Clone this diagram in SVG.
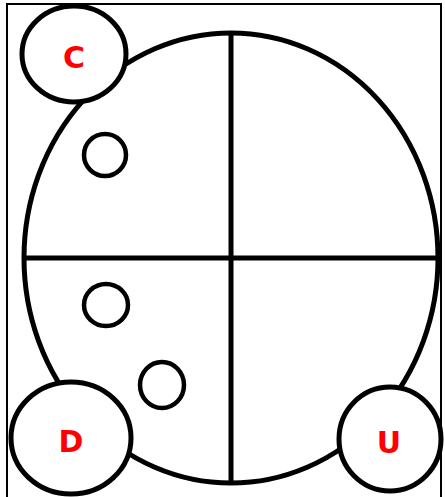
<svg xmlns="http://www.w3.org/2000/svg" width="445" height="497" viewBox="0 0 445 497">
<style>
.s{fill:none;stroke:#000;stroke-width:5}
.n{fill:#fff;stroke:#000;stroke-width:5}
.m{fill:#fff;stroke:#000;stroke-width:4.5}
.t{font-family:"DejaVu Sans",sans-serif;font-weight:bold;font-size:30px;fill:#f00;text-anchor:middle}
</style>
<rect x="0" y="0" width="445" height="497" fill="#fff"/>
<path d="M7,500 V4 H441 V500" fill="none" stroke="#000" stroke-width="2"/>
<g id="body">
<ellipse class="s" cx="231" cy="258" rx="207" ry="225"/>
<line class="s" x1="24" y1="258" x2="438" y2="258"/>
<line class="s" x1="231" y1="33" x2="231" y2="484"/>
</g>
<g id="dot1"><ellipse class="m" cx="105" cy="155" rx="21" ry="21"/></g>
<g id="dot2"><ellipse class="m" cx="106" cy="305" rx="22" ry="21"/></g>
<g id="dot3"><ellipse class="m" cx="162" cy="385" rx="22" ry="23"/></g>
<g id="C"><ellipse class="n" cx="74" cy="54" rx="52" ry="48"/><text class="t" x="74" y="68">C</text></g>
<g id="D"><ellipse class="n" cx="71" cy="438" rx="60" ry="56"/><text class="t" x="71" y="452">D</text></g>
<g id="U"><ellipse class="n" cx="390" cy="439" rx="51" ry="52"/><text class="t" x="389" y="453">U</text></g>
</svg>
